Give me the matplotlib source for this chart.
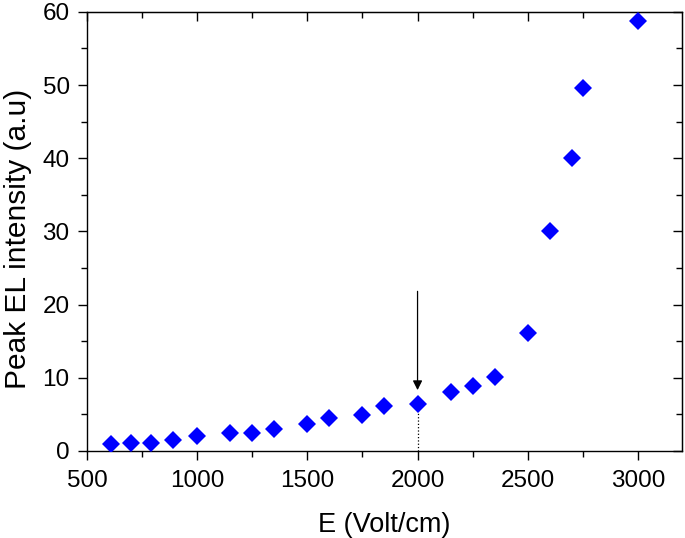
# -*- coding: utf-8 -*-
import numpy as np
import matplotlib
matplotlib.use('Agg')
import matplotlib.pyplot as plt
from matplotlib.ticker import MultipleLocator

plt.rcParams['font.family'] = ['Liberation Sans', 'DejaVu Sans']

# field (V/cm) and peak EL intensity
field = [610, 700, 790, 890, 1000, 1150, 1250, 1350, 1500, 1600, 1750,
         1850, 2000, 2150, 2250, 2350, 2500, 2600, 2700, 2750, 3000]
intensity = [0.9, 1.1, 1.1, 1.45, 2.0, 2.5, 2.5, 2.95, 3.7, 4.5, 4.9,
             6.1, 6.45, 8.1, 8.9, 10.1, 16.1, 30.1, 40.0, 49.6, 58.8]

# onset marker
onset_x = 2000
onset_y = 6.45
arrow_top = 21.8
arrow_tip = 8.3


def main():
    fig = plt.figure(figsize=(6.85, 5.38), dpi=100)
    ax = fig.add_axes([0.127, 0.162, 0.8686, 0.816])

    ax.plot([onset_x, onset_x], [0, onset_y], linestyle=':', color='k',
            linewidth=0.9, zorder=1)
    ax.annotate('', xy=(onset_x, arrow_tip), xytext=(onset_x, arrow_top),
                arrowprops=dict(arrowstyle='-|>', color='k', lw=0.9,
                                mutation_scale=14, shrinkA=0, shrinkB=0))
    ax.plot(field, intensity, linestyle='none', marker='D', markersize=9.2,
            color='#0000ff', markeredgewidth=0, zorder=3)

    ax.set_xlim(500, 3200)
    ax.set_ylim(0, 60)
    ax.xaxis.set_major_locator(MultipleLocator(500))
    ax.xaxis.set_minor_locator(MultipleLocator(250))
    ax.yaxis.set_major_locator(MultipleLocator(10))
    ax.yaxis.set_minor_locator(MultipleLocator(5))
    ax.tick_params(which='both', direction='out', width=1.0, labelsize=17.5,
                   top=False, right=False)
    ax.tick_params(which='major', length=6.5)
    ax.tick_params(which='minor', length=4)
    ax.tick_params(axis='x', which='major', pad=7)
    ax.tick_params(axis='y', which='major', pad=6)
    for sp in ax.spines.values():
        sp.set_linewidth(1.0)

    # mirrored ticks pointing inward on top and right
    top = ax.secondary_xaxis('top')
    top.xaxis.set_major_locator(MultipleLocator(500))
    top.xaxis.set_minor_locator(MultipleLocator(250))
    top.tick_params(which='both', direction='in', width=1.0, labeltop=False)
    top.tick_params(which='major', length=6.5)
    top.tick_params(which='minor', length=4)
    right = ax.secondary_yaxis('right')
    right.yaxis.set_major_locator(MultipleLocator(10))
    right.yaxis.set_minor_locator(MultipleLocator(5))
    right.tick_params(which='both', direction='in', width=1.0, labelright=False)
    right.tick_params(which='major', length=6.5)
    right.tick_params(which='minor', length=4)

    ax.set_xlabel('E (Volt/cm)', fontsize=19.5, labelpad=15)
    ax.set_ylabel('Peak EL intensity (a.u)', fontsize=21.5)
    ax.yaxis.set_label_coords(-0.093, 0.483)

    fig.savefig('out.png', dpi=100)


if __name__ == "__main__":
    main()
